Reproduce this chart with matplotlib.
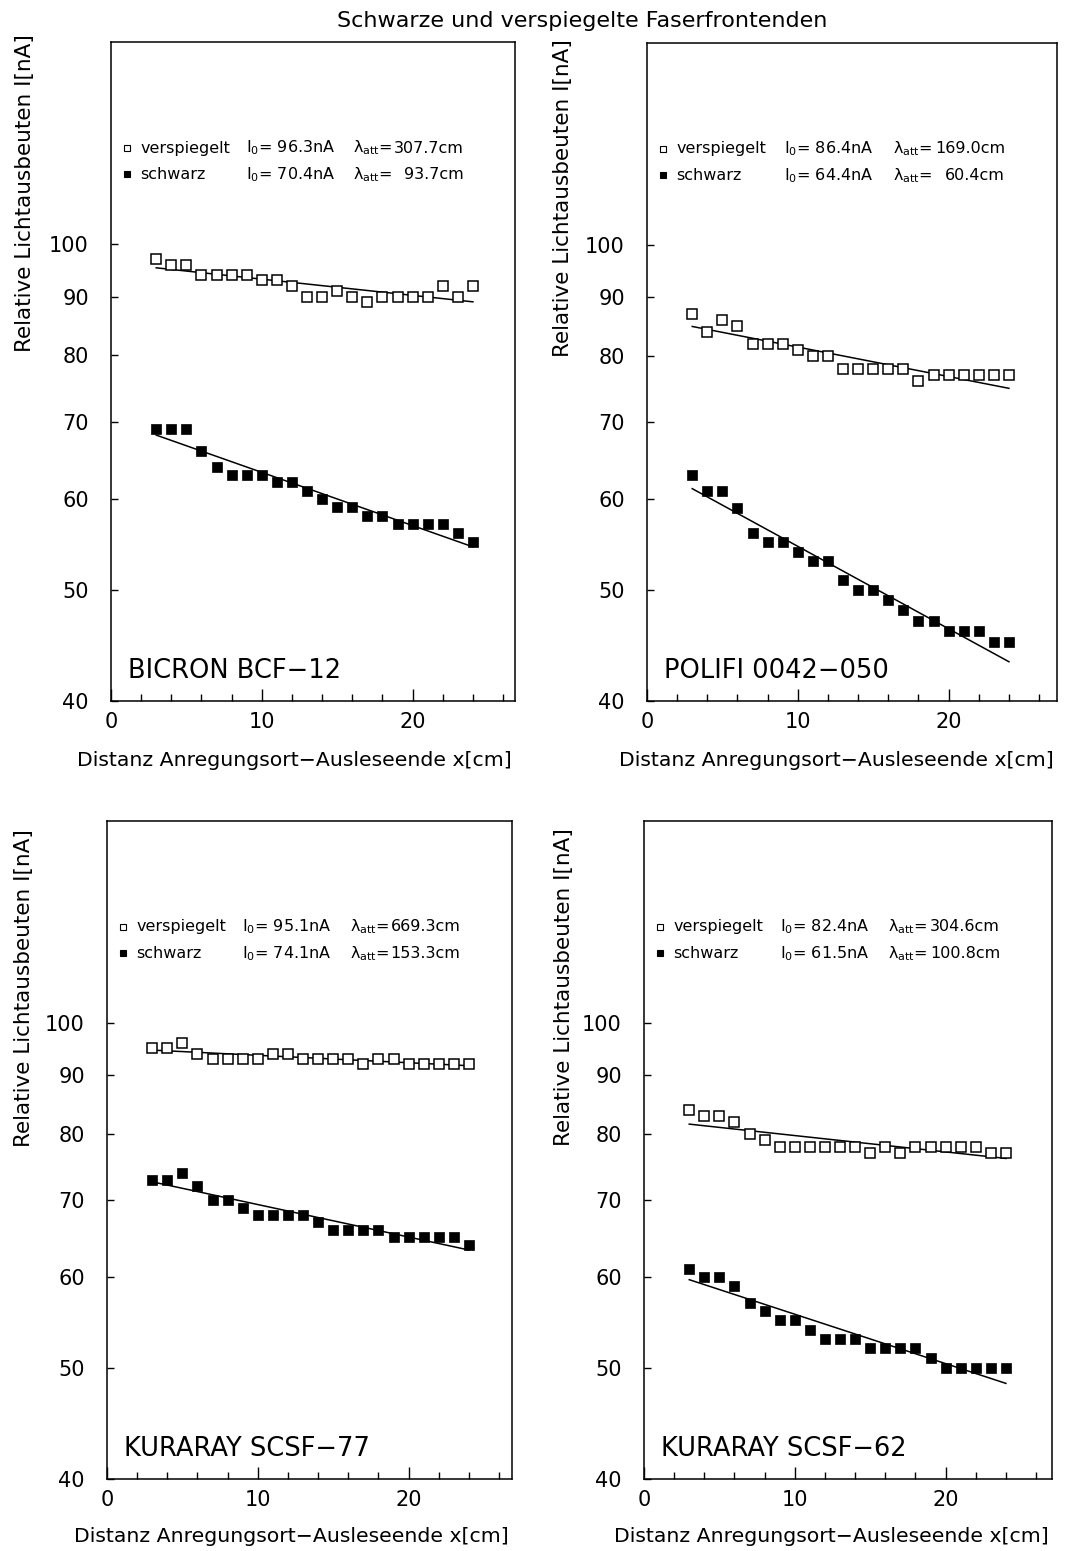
import numpy as np
import matplotlib
matplotlib.use("Agg")
import matplotlib.pyplot as plt

plt.rcParams['font.family'] = ['DejaVu Sans']
plt.rcParams['mathtext.fontset'] = 'dejavusans'

# ---------------- data ----------------
x_cm = list(range(3, 25))

fiber_names = ["BICRON BCF\u221212", "POLIFI 0042\u2212050",
               "KURARAY SCSF\u221277", "KURARAY SCSF\u221262"]

mirror_bcf12 = [97, 96, 96, 94, 94, 94, 94, 93, 93, 92, 90, 90, 91, 90, 89, 90, 90, 90, 90, 92, 90, 92]
black_bcf12 = [69, 69, 69, 66, 64, 63, 63, 63, 62, 62, 61, 60, 59, 59, 58, 58, 57, 57, 57, 57, 56, 55]

mirror_polifi = [87, 84, 86, 85, 82, 82, 82, 81, 80, 80, 78, 78, 78, 78, 78, 76, 77, 77, 77, 77, 77, 77]
black_polifi = [63, 61, 61, 59, 56, 55, 55, 54, 53, 53, 51, 50, 50, 49, 48, 47, 47, 46, 46, 46, 45, 45]

mirror_scsf77 = [95, 95, 96, 94, 93, 93, 93, 93, 94, 94, 93, 93, 93, 93, 92, 93, 93, 92, 92, 92, 92, 92]
black_scsf77 = [73, 73, 74, 72, 70, 70, 69, 68, 68, 68, 68, 67, 66, 66, 66, 66, 65, 65, 65, 65, 65, 64]

mirror_scsf62 = [84, 83, 83, 82, 80, 79, 78, 78, 78, 78, 78, 78, 77, 78, 77, 78, 78, 78, 78, 78, 77, 77]
black_scsf62 = [61, 60, 60, 59, 57, 56, 55, 55, 54, 53, 53, 53, 52, 52, 52, 52, 51, 50, 50, 50, 50, 50]

mirror_series = [mirror_bcf12, mirror_polifi, mirror_scsf77, mirror_scsf62]
black_series = [black_bcf12, black_polifi, black_scsf77, black_scsf62]

# fit parameters shown in the panels
I0_mirror = [96.3, 86.4, 95.1, 82.4]
lam_mirror = [307.7, 169.0, 669.3, 304.6]
I0_black = [70.4, 64.4, 74.1, 61.5]
lam_black = [93.7, 60.4, 153.3, 100.8]

y_ticks = [40, 50, 60, 70, 80, 90, 100]
x_ticks = [0, 10, 20]

title = "Schwarze und verspiegelte Faserfrontenden"
xlabel = "Distanz Anregungsort\u2212Ausleseende x[cm]"
ylabel = "Relative Lichtausbeuten I[nA]"

# ---------------- layout (pixels) ----------------
W, H = 1076, 1551
fig = plt.figure(figsize=(W / 100, H / 100), dpi=100)

def fx(px):
    return px / W

def fy(py):
    return 1 - py / H

boxes = [(111, 42, 515, 701), (647, 43, 1057, 701),
         (107, 821, 512, 1479), (644, 821, 1052, 1479)]
px_per_cm = 15.08
ylab_pos = [(25, 193), (563, 198), (24, 988), (564, 987)]
xlab_y = [760, 760, 1537, 1537]

for i, (l, t, r, b) in enumerate(boxes):
    ax = fig.add_axes([fx(l), fy(b), fx(r) - fx(l), fy(t) - fy(b)])
    ax.set_yscale('log')
    ax.set_xlim(0, (r - l) / px_per_cm)
    ax.set_ylim(40, 150)

    ax.plot(x_cm, mirror_series[i], ls='none', marker='s', ms=7.4,
            mfc='white', mec='black', mew=1.1, zorder=3)
    ax.plot(x_cm, black_series[i], ls='none', marker='s', ms=6.6,
            mfc='black', mec='black', mew=0.5, zorder=3)

    xf = np.linspace(x_cm[0], x_cm[-1], 60)
    ax.plot(xf, I0_mirror[i] * np.exp(-xf / lam_mirror[i]), color='black', lw=1.1, zorder=2)
    ax.plot(xf, I0_black[i] * np.exp(-xf / lam_black[i]), color='black', lw=1.1, zorder=2)

    ax.yaxis.set_minor_locator(matplotlib.ticker.NullLocator())
    ax.set_yticks(y_ticks)
    ax.set_yticklabels([str(v) for v in y_ticks])
    ax.set_xticks(x_ticks)
    ax.set_xticklabels([str(v) for v in x_ticks])
    ax.set_xticks(np.arange(2, 27, 2), minor=True)
    ax.tick_params(axis='x', which='major', direction='in', length=9, width=1.0,
                   labelsize=15, pad=8, top=False)
    ax.tick_params(axis='x', which='minor', direction='in', length=5, width=1.0, top=False)
    ax.tick_params(axis='y', which='major', direction='in', length=5, width=1.0,
                   labelsize=15, pad=16, right=False)
    for sp in ax.spines.values():
        sp.set_linewidth(1.1)

    # legend-like text block
    tr = ax.transAxes
    rows = [(0.839, 'white', "verspiegelt", I0_mirror[i], lam_mirror[i]),
            (0.799, 'black', "schwarz", I0_black[i], lam_black[i])]
    for yy, fc, name, i0, lam in rows:
        ax.plot([0.040], [yy], transform=tr, marker='s', ms=4.2, mfc=fc,
                mec='black', mew=0.8, ls='none', clip_on=False)
        ax.text(0.072, yy, name, transform=tr, fontsize=11.5, va='center', ha='left')
        ax.text(0.333, yy, "I$_0$= %.1fnA" % i0, transform=tr, fontsize=11.5,
                va='center', ha='left')
        ax.text(0.599, yy, "\u03bb$_{\\rm att}$=", transform=tr, fontsize=11.5,
                va='center', ha='left')
        ax.text(0.873, yy, "%.1fcm" % lam, transform=tr, fontsize=11.5,
                va='center', ha='right')

    ax.text(0.042, 0.046, fiber_names[i], transform=tr, fontsize=18.5,
            va='center', ha='left')

    # axis labels
    fig.text(fx(ylab_pos[i][0]), fy(ylab_pos[i][1]), ylabel, rotation=90,
             fontsize=15.5, ha='center', va='center')
    fig.text(fx(r - 3), fy(xlab_y[i]), xlabel, fontsize=14.7, ha='right', va='center')

fig.text(fx(582), fy(21), title, fontsize=16, ha='center', va='center')

fig.savefig("out.png", dpi=100)
